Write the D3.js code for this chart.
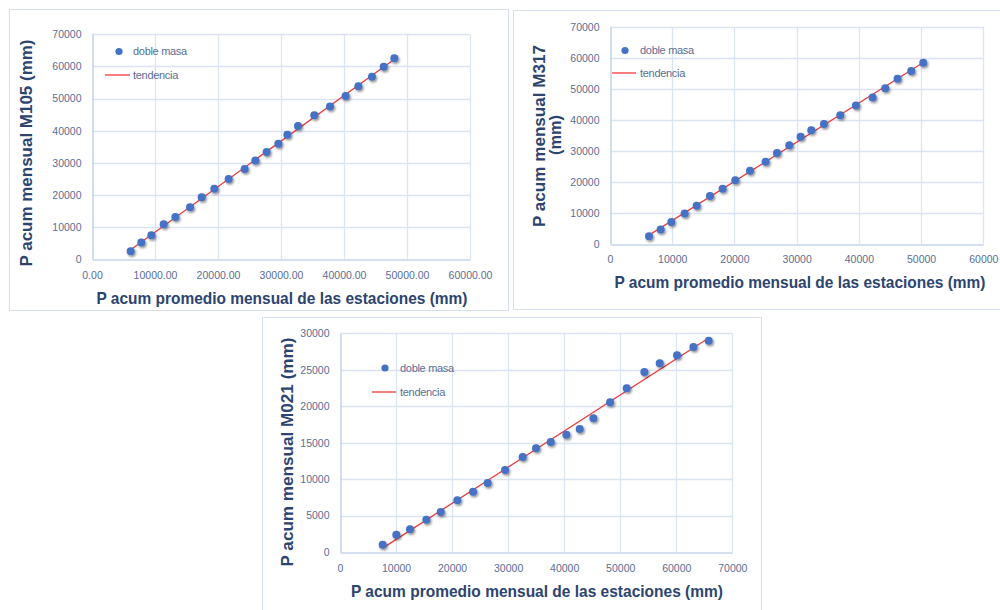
<!DOCTYPE html>
<html>
<head>
<meta charset="utf-8">
<script src="https://cdn.jsdelivr.net/npm/d3@7"></script>
<style>
  html, body { margin: 0; padding: 0; background: #ffffff; }
  svg { display: block; }
</style>
</head>
<body>
<svg id="chart" width="1000" height="610"></svg>
<script>
// ---- Station M105 ----
const m105X = [6140, 7830, 9420, 11380, 13230, 15560, 17410, 19420, 21690, 24230, 25930,
               27720, 29580, 31010, 32700, 35290, 37780, 40260, 42280, 44440, 46300, 47990];
const m105Y = [2490, 5190, 7470, 10890, 13170, 16180, 19290, 21980, 24990, 28100, 30700,
               33390, 35980, 38780, 41480, 44800, 47500, 50810, 53820, 56830, 59940, 62530];
const m105XTicks = [0, 10000, 20000, 30000, 40000, 50000, 60000];
const m105YTicks = [0, 10000, 20000, 30000, 40000, 50000, 60000, 70000];

// ---- Station M317 ----
const m317X = [6270, 8140, 9860, 12000, 13930, 16070, 18100, 20140, 22500, 25010, 26840,
               28820, 30640, 32350, 34390, 37010, 39530, 42210, 44240, 46220, 48420, 50350];
const m317Y = [2370, 4620, 6990, 9780, 12260, 15380, 17740, 20430, 23550, 26450, 29250,
               31720, 34520, 36560, 38600, 41400, 44620, 47200, 50110, 53230, 55700, 58390];
const m317XTicks = [0, 10000, 20000, 30000, 40000, 50000, 60000];
const m317YTicks = [0, 10000, 20000, 30000, 40000, 50000, 60000, 70000];

// ---- Station M021 ----
const m021X = [7610, 10050, 12490, 15410, 17970, 20940, 23740, 26350, 29450, 32600, 34980,
               37600, 40390, 42770, 45210, 48190, 51160, 54310, 57050, 60140, 63060, 65790];
const m021Y = [1010, 2380, 3110, 4440, 5490, 7090, 8280, 9470, 11250, 13030, 14220,
               15090, 16090, 16870, 18340, 20530, 22450, 24690, 25880, 26980, 28120, 28990];
const m021XTicks = [0, 10000, 20000, 30000, 40000, 50000, 60000, 70000];
const m021YTicks = [0, 5000, 10000, 15000, 20000, 25000, 30000];

const legendLabels = ["doble masa", "tendencia"];
const xTitle = "P acum promedio mensual de las estaciones (mm)";

const svg = d3.select("#chart");

// soft shadow under the markers
const defs = svg.append("defs");
const shadow = defs.append("filter").attr("id", "dotShadow")
  .attr("x", "-50%").attr("y", "-50%").attr("width", "200%").attr("height", "200%");
shadow.append("feDropShadow")
  .attr("dx", 1.2).attr("dy", 1.6).attr("stdDeviation", 1.1)
  .attr("flood-color", "#000").attr("flood-opacity", 0.45);

const TICK_COLOR = "#5a6e95";
const TITLE_COLOR = "#2c4470";
const GRID_COLOR = "#dbe4f3";
const AXIS_COLOR = "#c7d5ec";
const DOT_COLOR = "#4472c4";
const TREND_COLOR = "#f03a3a";
const TICK_FONT = "'Liberation Sans', Arial, sans-serif";
const TITLE_FONT = "'Liberation Sans', Arial, sans-serif";

// least-squares line through the points
function linearFit(xs, ys) {
  const n = xs.length;
  const mx = d3.mean(xs), my = d3.mean(ys);
  let sxy = 0, sxx = 0;
  for (let i = 0; i < n; i++) {
    sxy += (xs[i] - mx) * (ys[i] - my);
    sxx += (xs[i] - mx) * (xs[i] - mx);
  }
  const b = sxy / sxx;
  return x => my + b * (x - mx);
}

function drawPanel(cfg) {
  const g = svg.append("g");

  // frame of the chart box
  g.append("rect")
    .attr("x", cfg.box[0] + 0.5).attr("y", cfg.box[1] + 0.5)
    .attr("width", cfg.box[2]).attr("height", cfg.box[3])
    .attr("fill", "#fff").attr("stroke", "#d5dfee").attr("stroke-width", 1);

  const x = d3.scaleLinear().domain(d3.extent(cfg.xTicks)).range([cfg.plot.left, cfg.plot.right]);
  const y = d3.scaleLinear().domain(d3.extent(cfg.yTicks)).range([cfg.plot.bottom, cfg.plot.top]);

  // gridlines
  const grid = g.append("g");
  grid.selectAll("line.v").data(cfg.xTicks.slice(1)).join("line")
    .attr("x1", d => Math.round(x(d)) + 0.5).attr("x2", d => Math.round(x(d)) + 0.5)
    .attr("y1", cfg.plot.top).attr("y2", cfg.plot.bottom)
    .attr("stroke", GRID_COLOR).attr("stroke-width", 1.3);
  grid.selectAll("line.h").data(cfg.yTicks.slice(1)).join("line")
    .attr("y1", d => Math.round(y(d)) + 0.5).attr("y2", d => Math.round(y(d)) + 0.5)
    .attr("x1", cfg.plot.left).attr("x2", cfg.plot.right)
    .attr("stroke", GRID_COLOR).attr("stroke-width", 1.3);

  // axes
  const xAxis = g.append("g")
    .attr("transform", `translate(0,${Math.round(cfg.plot.bottom) + 0.5})`)
    .call(d3.axisBottom(x).tickValues(cfg.xTicks).tickFormat(cfg.xFormat).tickSize(0).tickPadding(cfg.xPad));
  const yAxis = g.append("g")
    .attr("transform", `translate(${Math.round(cfg.plot.left) + 0.5},0)`)
    .call(d3.axisLeft(y).tickValues(cfg.yTicks).tickFormat(d3.format("d")).tickSize(0).tickPadding(cfg.yPad));
  [xAxis, yAxis].forEach(a => {
    a.select(".domain").attr("stroke", AXIS_COLOR).attr("stroke-width", 1.6);
    a.selectAll("text").attr("fill", TICK_COLOR)
      .style("font-family", TICK_FONT).style("font-size", "10.5px");
  });

  // trend line across the data range
  const fit = linearFit(cfg.xs, cfg.ys);
  const [x0, x1] = d3.extent(cfg.xs);
  g.append("line")
    .attr("x1", x(x0)).attr("y1", y(fit(x0)))
    .attr("x2", x(x1)).attr("y2", y(fit(x1)))
    .attr("stroke", TREND_COLOR).attr("stroke-width", 1.3);

  // double-mass points
  g.append("g").attr("filter", "url(#dotShadow)")
    .selectAll("circle").data(cfg.xs.map((v, i) => [v, cfg.ys[i]])).join("circle")
    .attr("cx", d => x(d[0])).attr("cy", d => y(d[1])).attr("r", 4)
    .attr("fill", DOT_COLOR);

  // legend
  const lg = g.append("g");
  lg.append("circle").attr("cx", cfg.legend.dotX).attr("cy", cfg.legend.y1).attr("r", 3.6).attr("fill", DOT_COLOR);
  lg.append("line")
    .attr("x1", cfg.legend.lineX[0]).attr("x2", cfg.legend.lineX[1])
    .attr("y1", cfg.legend.y2).attr("y2", cfg.legend.y2)
    .attr("stroke", TREND_COLOR).attr("stroke-width", 1.3);
  lg.selectAll("text").data(legendLabels).join("text")
    .attr("x", cfg.legend.textX)
    .attr("y", (d, i) => i === 0 ? cfg.legend.y1 : cfg.legend.y2)
    .attr("dy", "0.35em")
    .attr("fill", TICK_COLOR)
    .style("font-family", TICK_FONT).style("font-size", "11px")
    .style("letter-spacing", "-0.3px")
    .text(d => d);

  // axis titles
  g.append("text")
    .attr("x", cfg.xTitle.cx).attr("y", cfg.xTitle.y)
    .attr("text-anchor", "middle")
    .attr("textLength", cfg.xTitle.len).attr("lengthAdjust", "spacingAndGlyphs")
    .attr("fill", TITLE_COLOR)
    .style("font-family", TITLE_FONT).style("font-weight", "bold").style("font-size", "16.5px")
    .text(xTitle);

  cfg.yTitle.lines.forEach(line => {
    g.append("text")
      .attr("transform", `translate(${line.x},${line.cy}) rotate(-90)`)
      .attr("text-anchor", "middle")
      .attr("textLength", line.len).attr("lengthAdjust", "spacingAndGlyphs")
      .attr("fill", TITLE_COLOR)
      .style("font-family", TITLE_FONT).style("font-weight", "bold").style("font-size", "16.5px")
      .text(line.text);
  });
}

drawPanel({
  box: [9, 9, 499, 301],
  plot: { left: 92, right: 470, top: 34.3, bottom: 259.3 },
  xs: m105X, ys: m105Y, xTicks: m105XTicks, yTicks: m105YTicks,
  xFormat: d3.format(".2f"), xPad: 12, yPad: 11,
  legend: { dotX: 119, y1: 51.5, lineX: [105, 130], y2: 75, textX: 133 },
  xTitle: { cx: 282, y: 304, len: 371 },
  yTitle: { lines: [{ text: "P acum mensual M105 (mm)", x: 32, cy: 153, len: 227 }] }
});

drawPanel({
  box: [513, 10, 500, 299],
  plot: { left: 610, right: 983.3, top: 26.7, bottom: 243.7 },
  xs: m317X, ys: m317Y, xTicks: m317XTicks, yTicks: m317YTicks,
  xFormat: d3.format("d"), xPad: 11, yPad: 11,
  legend: { dotX: 625, y1: 50.5, lineX: [612, 636], y2: 73, textX: 640 },
  xTitle: { cx: 800, y: 288, len: 371 },
  yTitle: { lines: [
    { text: "P acum mensual M317", x: 545, cy: 136, len: 182 },
    { text: "(mm)", x: 561, cy: 135, len: 40 }
  ] }
});

drawPanel({
  box: [262, 317, 499, 300],
  plot: { left: 340, right: 732.3, top: 333.3, bottom: 552 },
  xs: m021X, ys: m021Y, xTicks: m021XTicks, yTicks: m021YTicks,
  xFormat: d3.format("d"), xPad: 12, yPad: 11,
  legend: { dotX: 385, y1: 368, lineX: [372, 396], y2: 392, textX: 400 },
  xTitle: { cx: 537, y: 597, len: 372 },
  yTitle: { lines: [{ text: "P acum mensual M021 (mm)", x: 293, cy: 452, len: 229 }] }
});
</script>
</body>
</html>
